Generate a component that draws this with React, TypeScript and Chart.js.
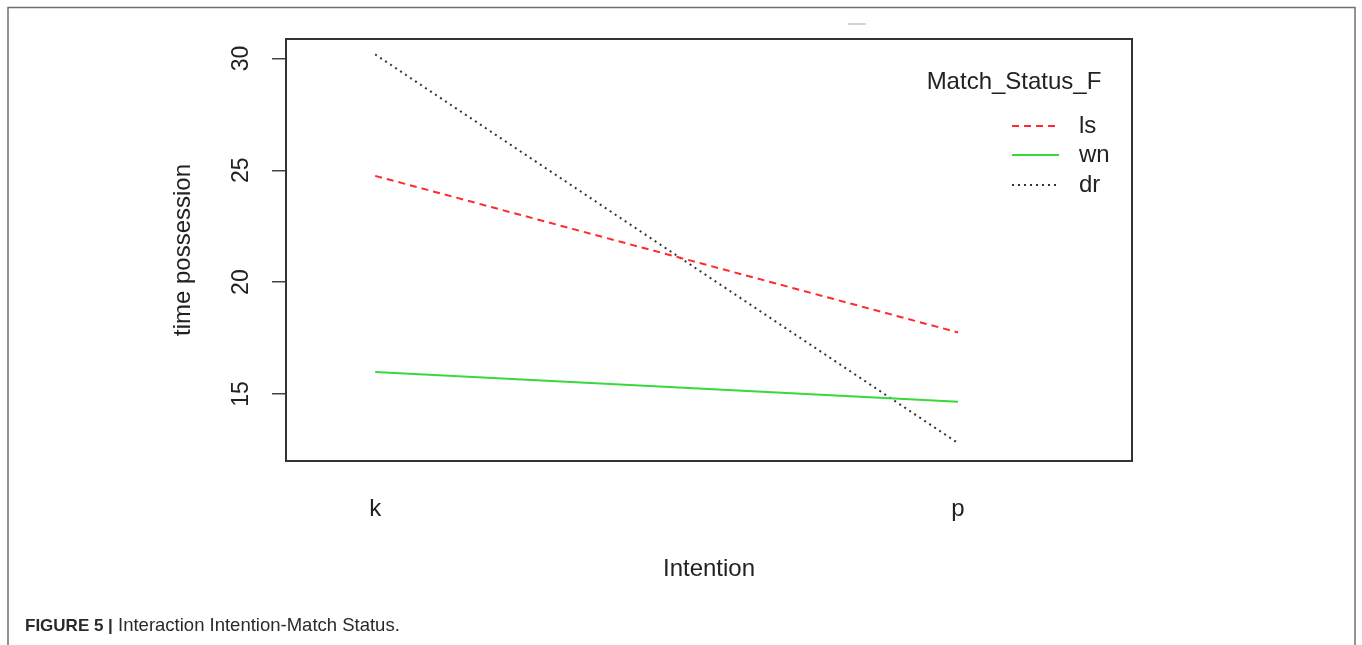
import React, { useEffect, useRef } from "react";
import { Chart, registerables } from "chart.js";

Chart.register(...registerables);

const categories = ["k", "p"];
const categoryPositions = [1, 2];
const seriesNames = ["ls", "wn", "dr"];
const lsValues = [24.75, 17.75];
const wnValues = [15.98, 14.65];
const drValues = [30.18, 12.8];
const yTicks = [15, 20, 25, 30];

const FONT = "'Liberation Sans', Arial, sans-serif";

const decorPlugin = {
  id: "decor",
  beforeDraw(chart: any) {
    const { ctx, width, height } = chart;
    ctx.save();
    ctx.fillStyle = "#ffffff";
    ctx.fillRect(0, 0, width, height);
    // outer figure frame
    ctx.strokeStyle = "#707070";
    ctx.lineWidth = 1.5;
    ctx.beginPath();
    ctx.moveTo(8, height);
    ctx.lineTo(8, 7.5);
    ctx.lineTo(1355, 7.5);
    ctx.lineTo(1355, height);
    ctx.stroke();
    // small artifact dash
    ctx.strokeStyle = "#c4c4c4";
    ctx.lineWidth = 1.5;
    ctx.beginPath();
    ctx.moveTo(848, 24);
    ctx.lineTo(866, 24);
    ctx.stroke();
    ctx.restore();
  },
  afterDraw(chart: any) {
    const { ctx, chartArea: a, scales } = chart;
    ctx.save();
    // plot box
    ctx.strokeStyle = "#333333";
    ctx.lineWidth = 2;
    ctx.strokeRect(a.left, a.top, a.right - a.left, a.bottom - a.top);
    // y tick labels (rotated, R style)
    const ys = scales.y;
    ctx.fillStyle = "#222222";
    ctx.font = `23px ${FONT}`;
    ys.ticks.forEach((t: any) => {
      const py = ys.getPixelForValue(t.value);
      ctx.save();
      ctx.translate(242, py);
      ctx.rotate(-Math.PI / 2);
      ctx.textAlign = "center";
      ctx.textBaseline = "middle";
      ctx.fillText(String(t.value), 0, 0);
      ctx.restore();
    });
    // legend
    ctx.font = `24px ${FONT}`;
    ctx.textAlign = "center";
    ctx.textBaseline = "middle";
    ctx.fillText("Match_Status_F", 1014, 82);
    const rowsY = [126, 155, 185];
    chart.data.datasets.forEach((ds: any, i: number) => {
      ctx.save();
      ctx.strokeStyle = ds.borderColor;
      ctx.lineWidth = ds.borderWidth;
      ctx.setLineDash(ds.borderDash || []);
      ctx.beginPath();
      ctx.moveTo(1012, rowsY[i]);
      ctx.lineTo(1059, rowsY[i]);
      ctx.stroke();
      ctx.restore();
      ctx.textAlign = "left";
      ctx.fillText(ds.label, 1079, rowsY[i]);
    });
    ctx.restore();
  },
};

export default function App() {
  const ref = useRef<HTMLCanvasElement | null>(null);
  useEffect(() => {
    if (!ref.current) return;
    const mk = (vals: number[]) =>
      vals.map((v, i) => ({ x: categoryPositions[i], y: v }));
    const chart = new Chart(ref.current, {
      type: "line",
      data: {
        datasets: [
          {
            label: seriesNames[0],
            data: mk(lsValues),
            borderColor: "#ff2b2b",
            borderWidth: 2,
            borderDash: [7, 5],
            pointRadius: 0,
            fill: false,
          },
          {
            label: seriesNames[1],
            data: mk(wnValues),
            borderColor: "#3ad83a",
            borderWidth: 2,
            pointRadius: 0,
            fill: false,
          },
          {
            label: seriesNames[2],
            data: mk(drValues),
            borderColor: "#333333",
            borderWidth: 2,
            borderDash: [2, 4],
            pointRadius: 0,
            fill: false,
          },
        ],
      },
      options: {
        animation: false,
        responsive: false,
        layout: { padding: { left: 0, top: 39, right: 230, bottom: 0 } },
        plugins: {
          legend: { display: false },
          tooltip: { enabled: false },
        },
        scales: {
          x: {
            type: "linear",
            min: 0.847,
            max: 2.2985,
            afterFit: (s: any) => {
              s.height = 184;
            },
            afterBuildTicks: (s: any) => {
              s.ticks = categoryPositions.map((v) => ({ value: v }));
            },
            grid: { display: false },
            border: { display: false },
            ticks: {
              autoSkip: false,
              maxRotation: 0,
              minRotation: 0,
              padding: 26,
              color: "#222222",
              font: { family: FONT, size: 24 },
              callback: (v: any) => {
                const idx = categoryPositions.indexOf(Number(v));
                return idx >= 0 ? categories[idx] : "";
              },
            },
            title: {
              display: true,
              text: "Intention",
              color: "#222222",
              font: { family: FONT, size: 24 },
              padding: { top: 0, bottom: 61 },
            },
          },
          y: {
            type: "linear",
            min: 12.0,
            max: 30.87,
            afterFit: (s: any) => {
              s.width = 286;
            },
            afterBuildTicks: (s: any) => {
              s.ticks = yTicks.map((v) => ({ value: v }));
            },
            grid: {
              drawOnChartArea: false,
              drawTicks: true,
              tickLength: 14,
              color: "#444444",
              lineWidth: 1.5,
            },
            border: { display: false },
            ticks: { display: false },
            title: {
              display: true,
              text: "time possession",
              color: "#222222",
              font: { family: FONT, size: 24 },
              padding: { top: 169, bottom: 0 },
            },
          },
        },
      },
      plugins: [decorPlugin],
    });
    return () => chart.destroy();
  }, []);

  return (
    <div
      style={{
        position: "absolute",
        left: 0,
        top: 0,
        width: 1362,
        height: 645,
        background: "#fff",
      }}
    >
      <canvas ref={ref} width={1362} height={645} style={{ display: "block" }} />
      <div
        style={{
          position: "absolute",
          left: 25,
          top: 614,
          fontFamily: FONT,
          fontSize: 18.5,
          color: "#2a2a2a",
          whiteSpace: "nowrap",
        }}
      >
        <b style={{ fontSize: 17 }}>FIGURE 5 |</b> Interaction Intention-Match Status.
      </div>
    </div>
  );
}
